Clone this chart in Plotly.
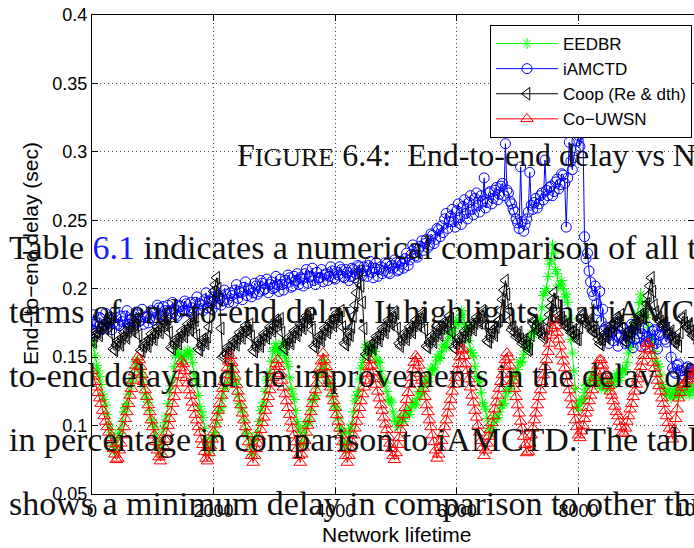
import plotly.graph_objects as go

# Network lifetime (rounds), sampled every 25 rounds
lifetime = list(range(0, 10000, 25))

# End-to-end delay (sec) per scheme
eedbr = [
    .162, .158, .151, .144, .140, .136, .130, .123, .119, .115, .108, .101, .097, .093, .086, .080,
    .084, .091, .094, .097, .103, .110, .113, .116, .123, .129, .132, .135, .142, .147,
    .148, .142, .139, .136, .130, .123, .120, .117, .111, .104, .102, .099, .093, .086, .084, .079,
    .088, .097, .102, .107, .116, .124, .129, .134, .143, .151,
    .156, .151, .152, .147, .148, .152, .151, .155, .154, .152,
    .146, .138, .134, .130, .122, .114, .110, .106, .098, .090, .086, .080,
    .084, .091, .093, .095, .102, .109, .111, .113, .120, .127, .129, .131, .138, .144,
    .143, .136, .133, .130, .123, .116, .113, .110, .104, .097, .094, .091, .085, .079,
    .081, .089, .092, .095, .103, .111, .114, .117, .125, .133, .136, .139, .147, .154, .157, .160,
    .155, .151, .155, .160,
    .159, .151, .147, .143, .135, .127, .123, .119, .111, .103, .099, .095, .087, .086,
    .093, .100, .102, .104, .111, .118, .120, .122, .129, .137, .139, .141, .148, .146,
    .140, .133, .131, .129, .122, .116, .114, .112, .105, .098, .096, .094, .087, .082,
    .087, .095, .098, .101, .110, .118, .122, .125, .134, .142, .146, .150,
    .157, .159, .156, .153, .155, .158,
    .154, .148, .147, .146, .140, .134, .132, .131, .125, .119, .118, .117, .110, .104, .103, .099,
    .102, .106, .105, .103, .107, .111, .110, .108, .113, .117, .116, .115,
    .120, .125, .124, .123, .128, .133, .133, .132, .137, .142, .141, .140, .145, .150, .150, .149,
    .154, .159, .158, .157, .162, .167, .167, .166, .171, .176, .175, .174, .179, .184,
    .181, .174, .172, .170, .162, .155, .153, .151, .143, .136, .134, .132, .124, .117, .114, .112,
    .105, .098, .095, .096,
    .100, .105, .105, .106, .110, .115, .115, .116, .121, .126, .126, .127, .131, .136, .136, .137,
    .141, .146, .146, .147, .152, .157, .157, .158, .162, .167, .167, .168, .172, .177, .177, .178,
    .186, .195, .198, .200, .209, .218, .221, .232,
    .226, .214, .211, .202,
    .203, .206, .200, .194, .196, .190,
    .178, .163, .153, .140, .127, .114,
    .112, .117, .118, .119, .124, .129, .130, .131,
    .135, .138, .134, .130, .132, .135, .131, .127, .129, .132,
    .128, .126, .130, .134, .132, .130, .134, .138, .135, .133, .137, .141, .139, .141,
    .146, .153, .157, .160, .168, .175, .179, .182, .190, .196,
    .190, .183, .181, .179, .172, .165, .163, .161, .154, .147, .145, .143, .137, .130, .128, .125,
    .122, .126, .123, .120, .123, .127, .124, .121, .124, .128, .125, .122, .125, .129, .125, .122,
    .126, .130, .126, .123, .126, .129,
]

iamctd = [
    .170, .181, .176, .168, .172, .179, .178, .171, .174, .182, .171, .175, .177, .170, .175, .183,
    .179, .174, .173, .180, .176, .171, .180, .184, .174, .177, .178, .172, .175, .183, .181, .176,
    .177, .185, .174, .179, .180, .175, .178, .184,
    .183, .177, .179, .188, .186, .180, .181, .187, .184, .179, .188, .184, .182, .190, .185, .181,
    .180, .188, .187, .183, .184, .191, .189, .184, .183, .190, .186, .182, .190, .194, .185, .189,
    .188, .184, .192, .197, .186, .191, .190, .185, .194, .198, .189, .195, .193, .188, .191, .199,
    .196, .192, .190, .197, .195, .190, .199, .203, .193, .198, .197, .192, .201, .205, .195, .200,
    .199, .194,
    .197, .204, .202, .196, .198, .206, .204, .199, .200, .207, .197, .203, .205, .200, .201, .209,
    .203, .198, .207, .203, .199, .206, .204, .210, .208, .201, .202, .209, .206, .211, .203, .208,
    .207, .202, .211, .214, .204, .209, .209, .215, .206, .203, .212, .208, .208, .214, .205, .210,
    .211, .206, .209, .216, .213, .208, .207, .212, .210, .216, .214, .209, .208, .214, .212, .206,
    .209, .215, .214, .208, .211, .217, .216, .211, .210, .216, .213, .209, .217, .220, .212, .208,
    .215, .219, .209, .214, .216, .211, .213, .219, .218, .212, .211, .217, .215, .221,
    .219, .213, .214, .220, .218, .215, .222, .226, .217, .221, .225, .232, .229, .224,
    .223, .229, .231, .235, .228, .233, .236, .230, .232, .240, .239, .233, .236, .244, .243, .238,
    .246, .241, .251, .255, .244, .249, .253, .258, .249, .245, .257, .262, .252, .247, .260, .265,
    .255, .251, .263, .268, .258, .254, .266, .270, .261, .256,
    .268, .264, .281, .259, .263, .270, .271, .262, .266, .272, .274, .265, .269, .275, .277, .268,
    .306, .272, .270, .264,
    .262, .258, .256, .251, .248, .244, .289, .249, .242, .247, .251, .256, .285, .261,
    .258, .263, .266, .259, .262, .268, .270, .265, .294, .272, .268, .274, .275, .268, .271, .278,
    .280, .273, .276, .284, .283, .277, .245, .281, .307, .293, .287, .296,
    .301, .308, .312, .304, .322, .315, .238, .222,
    .226, .213, .205, .198, .195, .202, .189, .184, .198, .176, .185, .170,
    .172, .165, .160, .170, .168, .162, .175, .166, .158, .164, .166, .171, .171, .160, .162, .168,
    .169, .174, .157, .163, .174, .167, .164, .158, .167, .171, .159, .165, .172, .161, .163, .169,
    .170, .160, .156, .166, .168, .172, .173, .163, .161, .167, .166, .150,
    .142, .139, .138, .144, .145, .140, .140, .137, .136, .142, .143, .138, .139, .141, .141, .136,
    .137, .140,
]

coop = [
    .163, .161, .166, .169, .168, .166, .171, .174, .173, .171, .175, .179, .178, .167,
    .156, .155, .159, .162, .161, .159, .164, .168,
    .166, .164, .169, .173, .171, .169, .174, .178, .177, .166,
    .155, .154, .158, .161, .160, .158, .163, .167, .165, .163,
    .168, .172, .170, .168, .173, .177, .175, .173, .178, .168,
    .157, .156, .160, .163, .162, .160, .165, .169, .167, .165,
    .170, .174, .172, .170, .175, .179, .177, .166,
    .156, .155, .159, .163, .162, .160, .165, .172,
    .185, .191, .198, .203, .208, .200, .192, .171, .150, .151, .153, .157,
    .156, .154, .159, .162, .161, .159, .164, .168, .166, .164, .169, .173, .171, .169, .174, .165,
    .155, .154, .158, .162,
    .160, .158, .163, .167, .166, .164, .168, .172, .171, .169, .173, .177, .176, .174, .178, .168,
    .157, .156, .160, .164,
    .162, .160, .165, .169, .168, .166, .170, .174, .173, .171, .176, .180, .179, .177, .182, .170,
    .158, .157, .161, .165,
    .164, .162, .167, .171, .170, .168, .172, .176, .175, .173, .178, .182, .181, .179, .184, .172,
    .160, .159, .163, .167, .166, .172, .180, .188,
    .197, .205, .213, .202, .190, .171, .152, .151,
    .155, .159, .158, .156, .161, .165, .164, .162, .167, .171, .170, .168, .173, .177, .176, .174,
    .179, .183, .182, .171,
    .160, .158, .163, .167, .165, .163, .168, .172, .170, .168, .173, .177, .175, .173, .178, .182,
    .181, .170, .158, .157,
    .161, .165, .163, .161, .166, .170, .168, .166, .171, .175, .173, .171, .176, .180, .178, .168,
    .157, .156, .160, .164,
    .162, .160, .165, .169, .167, .165, .170, .174, .172, .170, .175, .179, .177, .175, .180, .184,
    .183, .173, .162, .161,
    .165, .169, .168, .166, .172, .176, .177, .184,
    .192, .199, .206, .196, .185, .177, .170, .172,
    .168, .165, .166, .168, .163, .160, .161, .163, .158, .155, .156, .166, .175, .177, .172, .169,
    .170, .172, .167, .164, .165, .171, .176, .181,
    .187, .192, .197, .190, .182, .180, .178, .179,
    .176, .173, .173, .175, .171, .168, .168, .170, .166, .163, .163, .172, .180, .182, .177, .174,
    .175, .177, .172, .169, .169, .171, .167, .163,
    .160, .159, .163, .167, .166, .164, .169, .173, .172, .170, .175, .179, .178, .176, .181, .171,
    .162, .161, .165, .169, .168, .166, .171, .175, .174, .172, .177, .181, .180, .178, .183, .189,
    .195, .202, .208, .198, .188, .183, .178, .179,
    .176, .174, .173, .175, .170, .167, .167, .169, .164, .161, .161, .163, .158, .168, .178, .180,
    .175, .172, .172, .174, .169, .166, .166, .168, .163, .160,
]

co_uwsn = [
    .140, .136, .132, .128, .124, .120, .116, .111, .107, .103, .099, .095, .091, .087, .083, .079,
    .075, .076, .082, .087, .093, .099, .105, .110, .116, .122, .127, .133, .139, .144,
    .150, .148, .143, .137, .132, .126, .121, .115, .110, .104, .099, .093, .088, .082, .077, .074,
    .079, .085, .090, .095, .100, .105, .110, .116, .121, .126, .131, .137, .142, .147,
    .145, .140, .135, .131, .126, .122, .117, .113, .108, .104, .099, .095, .090, .086, .081, .076,
    .074, .080, .085, .090, .095, .101, .106, .111, .116, .122, .127, .132, .137, .142, .147, .151,
    .146, .141, .136, .130, .125, .120, .115, .109, .104, .099, .094, .088, .083, .078,
    .073, .078, .083, .087, .092, .097, .102, .106, .111, .116, .121, .126, .131, .135, .140, .145,
    .148, .143, .138, .133, .128, .123, .118, .113, .108, .103, .098, .093, .088, .083, .078, .073,
    .079, .084, .089, .095, .100, .105, .110, .116, .121, .126, .131, .137, .142, .147, .153, .148,
    .143, .138, .133, .128, .123, .118, .113, .108, .103, .098, .093, .088, .083, .078,
    .073, .078, .083, .088, .093, .098, .103, .108, .113, .118, .123, .128, .133, .138, .143, .148,
    .144, .139, .134, .130, .125, .120, .115, .111, .106, .101, .097, .092, .087, .083, .078, .075,
    .080, .086, .091, .097, .102, .108, .113, .119, .124, .130, .135, .141, .146, .151,
    .149, .144, .138, .133, .127, .121, .115, .110, .104, .099, .093, .088, .082, .076,
    .079, .084, .089, .094, .099, .104, .109, .114, .119, .125, .130, .135, .140, .145, .150, .155,
    .156, .151, .145, .140, .134, .128, .122, .117, .111, .106, .100, .095, .089, .084, .078, .082,
    .087, .092, .097, .102, .107, .112, .117, .122, .127, .132, .137, .143, .148, .153,
    .150, .144, .138, .133, .127, .121, .115, .109, .103, .098, .092, .086, .080, .081,
    .087, .093, .098, .104, .109, .115, .121, .126, .132, .137, .143, .148, .154, .160, .166, .171,
    .177, .173, .168, .163, .158, .152, .147, .142, .136, .131, .126, .120, .115, .110, .104, .099,
    .093, .091, .096, .100, .105, .109, .113, .118, .122, .126, .131, .135, .139, .144, .148, .148,
    .144, .140, .137, .133, .129, .125, .122, .118, .114, .110, .107, .103, .099, .095,
    .094, .098, .103, .107, .112, .116, .121, .125, .130, .134, .138, .143, .147, .151, .156, .160,
    .160, .155, .151, .146, .142, .138, .133, .129, .125, .120, .116, .111, .107, .102, .098, .094,
    .090, .097, .105, .112, .120, .124, .128, .130, .131, .133, .134, .136, .137, .139, .140, .141,
    .142, .143,
]

series_names = ["EEDBR", "iAMCTD", "Coop (Re &amp; dth)", "Co\u2212UWSN"]
series_values = [eedbr, iamctd, coop, co_uwsn]
series_colors = ["#00ff00", "#0000ff", "#000000", "#ff0000"]
series_symbols = ["asterisk-open", "circle-open", "triangle-left-open", "triangle-up-open"]
series_sizes = [9, 10, 11, 11]

x_ticks = [0, 2000, 4000, 6000, 8000]
x_tick_text = ["0", "2000", "4000", "6000", "8000"]
x_last_tick = 10000
x_last_tick_text = "10000"
y_ticks = [0.05, 0.1, 0.15, 0.2, 0.25, 0.3, 0.35, 0.4]
y_tick_text = ["0.05", "0.1", "0.15", "0.2", "0.25", "0.3", "0.35", "0.4"]

# page text set over the figure
caption_text = ('F<span style="font-size:26px">IGURE</span> 6.4:  '
                'End-to-end delay vs Network lifetime')
body_lines = [
    'Table <span style="color:#1a1aff">6.1</span> indicates a numerical comparison of all the',
    'terms of end-to-end delay. It highlights that iAMCTD',
    'to-end delay and the improvements in the delay of',
    'in percentage in comparison to iAMCTD. The table',
    'shows a minimum delay in comparison to other three',
]

W, H = 694, 548
L, R, T, B = 92, 694, 15, 494          # plot-area box in page pixels
X_MAX = 10000 * (R - L) / (700 - L)     # axis runs to 10000 at x=700 px


def fx(px):
    return (px - L) / (R - L)


def fy(py):
    return (B - py) / (B - T)


fig = go.Figure()
for name, vals, col, sym, sz in zip(series_names, series_values, series_colors,
                                    series_symbols, series_sizes):
    fig.add_trace(go.Scatter(
        x=lifetime[:len(vals)], y=vals, name=name, mode="lines+markers",
        line=dict(color=col, width=1),
        marker=dict(symbol=sym, size=sz, color=col, line=dict(width=1, color=col)),
    ))

tick_font = dict(family="Liberation Sans, Arial, sans-serif", size=18, color="black")
axis_common = dict(
    showline=True, linecolor="black", linewidth=1, mirror="ticks",
    ticks="inside", ticklen=6, tickcolor="black",
    showgrid=True, gridcolor="rgba(0,0,0,0.7)", griddash="1px,3px", gridwidth=1,
    zeroline=False, tickfont=tick_font,
)
fig.update_xaxes(range=[0, X_MAX], tickvals=x_ticks, ticktext=x_tick_text, **axis_common)
fig.update_yaxes(range=[0.05, 0.4], tickvals=y_ticks, ticktext=y_tick_text, **axis_common)

annotations = [
    dict(text=x_last_tick_text, xref="paper", yref="paper", x=x_last_tick / X_MAX,
         y=fy(510), xanchor="center", yanchor="middle", showarrow=False, font=tick_font),
    dict(text="End\u2212to\u2212end delay (sec)", xref="paper", yref="paper",
         x=fx(30), y=fy(254), textangle=-90, xanchor="center", yanchor="middle",
         showarrow=False, font=dict(family="Liberation Sans, Arial", size=21, color="black")),
    dict(text="Network lifetime", xref="paper", yref="paper", x=fx(396), y=fy(534),
         xanchor="center", yanchor="middle", showarrow=False,
         font=dict(family="Liberation Sans, Arial", size=21, color="black")),
    dict(text=caption_text, xref="paper", yref="paper", x=fx(235), y=fy(167 + 8),
         xanchor="left", yanchor="bottom", showarrow=False,
         font=dict(family="Liberation Serif, Times New Roman, serif", size=32, color="#111")),
]
for i, line in enumerate(body_lines):
    annotations.append(dict(
        text=line, xref="paper", yref="paper", x=fx(7), y=fy(260 + 64 * i + 8),
        xanchor="left", yanchor="bottom", showarrow=False,
        font=dict(family="Liberation Serif, Times New Roman, serif", size=34, color="#111"),
    ))

fig.update_layout(
    width=W, height=H, autosize=False,
    margin=dict(l=L, r=W - R, t=T, b=H - B, pad=0),
    paper_bgcolor="white", plot_bgcolor="white",
    showlegend=True,
    legend=dict(
        x=fx(692), y=fy(25), xanchor="right", yanchor="top",
        bgcolor="white", bordercolor="black", borderwidth=1,
        font=dict(family="Liberation Sans, Arial", size=17, color="black"),
        itemwidth=62, tracegroupgap=0,
    ),
    annotations=annotations,
)

fig.write_html("out.html")
